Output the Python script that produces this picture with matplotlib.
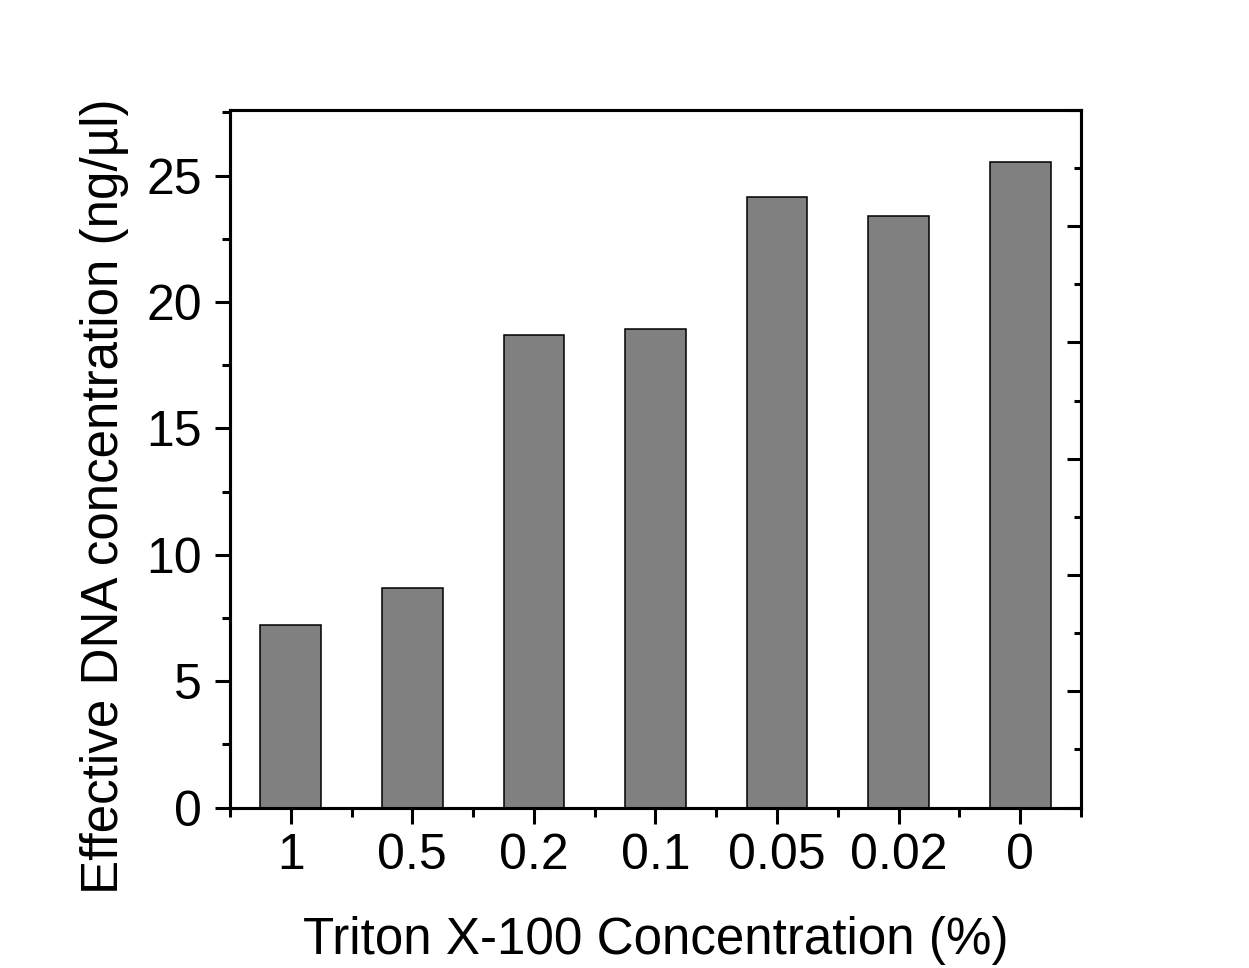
import matplotlib
matplotlib.use("Agg")
import matplotlib.pyplot as plt
from matplotlib.ticker import MultipleLocator

plt.rcParams['font.family'] = ['Liberation Sans', 'DejaVu Sans']

concentracoes = ['1', '0.5', '0.2', '0.1', '0.05', '0.02', '0']
dna_efetivo = [7.23, 8.70, 18.71, 18.95, 24.15, 23.39, 25.56]

fig = plt.figure(figsize=(12.49, 9.68), dpi=100)
ax = fig.add_axes([0.18415, 0.1658, 0.6813, 0.7206])

posicoes = list(range(1, len(concentracoes) + 1))
ax.bar(posicoes, dna_efetivo, width=0.5, color='#808080',
       edgecolor='black', linewidth=1.1)

ax.set_xlim(0.5, 7.5)
ax.set_ylim(0, 27.6)
ax.set_xticks(posicoes)
ax.set_xticklabels(concentracoes)
ax.xaxis.set_minor_locator(MultipleLocator(1, offset=0.5))
ax.yaxis.set_major_locator(MultipleLocator(5))
ax.yaxis.set_minor_locator(MultipleLocator(2.5))

for lado in ax.spines.values():
    lado.set_linewidth(2.2)

ax.tick_params(axis='y', which='major', direction='out', length=10.8, width=2.2,
               labelsize=36, pad=9.5)
ax.tick_params(axis='y', which='minor', direction='out', length=5.8, width=2.2)
ax.tick_params(axis='x', which='major', direction='out', length=11.5, width=2.2,
               labelsize=36, pad=7)
ax.tick_params(axis='x', which='minor', direction='out', length=6.5, width=2.2)

# eixo da direita so com ticks para dentro, sem rotulos
ax2 = ax.twinx()
ax2.set_ylim(0, 6)
ax2.yaxis.set_major_locator(MultipleLocator(1))
ax2.yaxis.set_minor_locator(MultipleLocator(0.5))
ax2.tick_params(axis='y', which='major', direction='in', length=10, width=2.2,
                labelright=False)
ax2.tick_params(axis='y', which='minor', direction='in', length=5, width=2.2)
for lado in ax2.spines.values():
    lado.set_linewidth(2.2)

ax.set_xlabel('Triton X-100 Concentration (%)', fontsize=36.8)
ax.xaxis.set_label_coords(0.5, -0.155)
ax.set_ylabel('Effective DNA concentration (ng/\u00b5l)', fontsize=36.8)
ax.yaxis.set_label_coords(-0.119, 0.4456)

fig.savefig('out.png', dpi=100)
